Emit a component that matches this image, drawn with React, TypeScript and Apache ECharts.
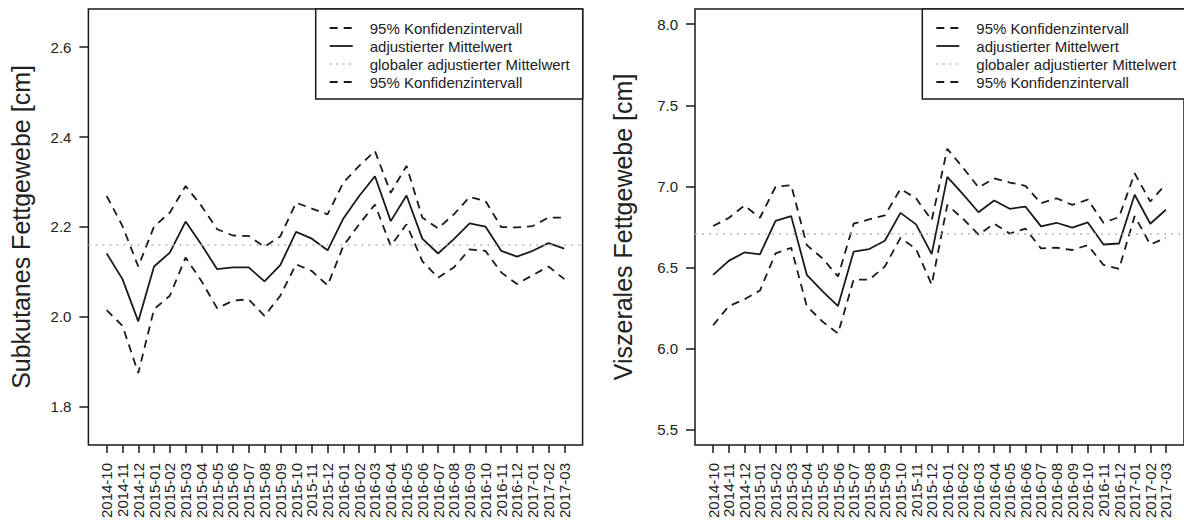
import React, { useEffect, useRef } from "react";
import * as echarts from "echarts";

const months = [
  "2014-10", "2014-11", "2014-12", "2015-01", "2015-02", "2015-03", "2015-04", "2015-05", "2015-06", "2015-07",
  "2015-08", "2015-09", "2015-10", "2015-11", "2015-12", "2016-01", "2016-02", "2016-03", "2016-04", "2016-05",
  "2016-06", "2016-07", "2016-08", "2016-09", "2016-10", "2016-11", "2016-12", "2017-01", "2017-02", "2017-03",
];

const subMean = [2.141, 2.084, 1.99, 2.112, 2.143, 2.212, 2.161, 2.106, 2.11, 2.11, 2.079, 2.115, 2.189, 2.174, 2.148, 2.219, 2.269, 2.313, 2.213, 2.27, 2.174, 2.141, 2.173, 2.208, 2.201, 2.147, 2.134, 2.147, 2.164, 2.152];
const subUpper = [2.269, 2.202, 2.112, 2.201, 2.232, 2.291, 2.247, 2.195, 2.181, 2.18, 2.156, 2.179, 2.254, 2.241, 2.228, 2.299, 2.336, 2.369, 2.276, 2.336, 2.221, 2.197, 2.228, 2.267, 2.258, 2.2, 2.199, 2.202, 2.221, 2.221];
const subLower = [2.015, 1.98, 1.875, 2.017, 2.047, 2.132, 2.08, 2.019, 2.036, 2.039, 2.002, 2.047, 2.117, 2.102, 2.07, 2.158, 2.206, 2.25, 2.158, 2.206, 2.124, 2.087, 2.11, 2.15, 2.147, 2.099, 2.073, 2.093, 2.112, 2.084];
const subGlobal = 2.16;
const subTicks = [1.8, 2.0, 2.2, 2.4, 2.6];

const visMean = [6.455, 6.541, 6.593, 6.581, 6.787, 6.817, 6.455, 6.354, 6.262, 6.598, 6.614, 6.665, 6.837, 6.766, 6.583, 7.059, 6.953, 6.841, 6.913, 6.862, 6.876, 6.754, 6.776, 6.746, 6.778, 6.642, 6.648, 6.949, 6.77, 6.856];
const visUpper = [6.756, 6.805, 6.882, 6.807, 6.998, 7.008, 6.638, 6.557, 6.445, 6.77, 6.797, 6.821, 6.984, 6.927, 6.791, 7.232, 7.116, 6.994, 7.049, 7.024, 7.004, 6.896, 6.927, 6.886, 6.919, 6.776, 6.811, 7.081, 6.907, 7.014];
const visLower = [6.144, 6.262, 6.303, 6.358, 6.587, 6.622, 6.262, 6.167, 6.093, 6.425, 6.425, 6.506, 6.683, 6.614, 6.394, 6.886, 6.801, 6.703, 6.77, 6.709, 6.74, 6.618, 6.622, 6.608, 6.638, 6.516, 6.492, 6.817, 6.642, 6.683];
const visGlobal = 6.713;
const visTicks = [5.5, 6.0, 6.5, 7.0, 7.5, 8.0];

const legendLabels = [
  "95% Konfidenzintervall",
  "adjustierter Mittelwert",
  "globaler adjustierter Mittelwert",
  "95% Konfidenzintervall",
];

const FONT = "'Liberation Sans', Arial, Helvetica, sans-serif";
const INK = "#1a1a1a";
const TXT = "#222";
const GRAY = "#b8b8b8";
const DASH = [8, 6];

export default function App() {
  const ref = useRef<HTMLDivElement>(null);

  useEffect(() => {
    if (!ref.current) return;
    const chart = echarts.init(ref.current, null, { renderer: "svg" });
    const idx = months.map((_, i) => i);
    const n = months.length;
    const xPad = 0.04 * (n - 1);

    const panels = [
      { left: 88.4, min: 1.715, max: 2.685, ticks: subTicks, name: "Subkutanes Fettgewebe [cm]", gap: 55, mean: subMean, up: subUpper, lo: subLower, g: subGlobal },
      { left: 695, min: 5.406, max: 8.094, ticks: visTicks, name: "Viszerales Fettgewebe [cm]", gap: 60, mean: visMean, up: visUpper, lo: visLower, g: visGlobal },
    ];
    const W = 494.2;
    const top = 9;
    const H = 438;

    const grids = panels.map((p) => ({
      left: p.left, top, width: W, height: H, show: true,
      borderColor: INK, borderWidth: 1.5, backgroundColor: "transparent",
    }));

    const xAxes = panels.map((_, k) => ({
      type: "value", gridIndex: k, min: -xPad, max: n - 1 + xPad,
      splitLine: { show: false },
      axisLine: { show: false, onZero: false },
      axisTick: { show: true, inside: false, length: 8, customValues: idx, lineStyle: { color: INK, width: 1.5 } },
      axisLabel: {
        show: true, customValues: idx, rotate: 90, margin: 18,
        fontSize: 15, fontFamily: FONT, color: TXT,
        formatter: (v: number) => months[Math.round(v)] ?? "",
      },
    }));

    const yAxes = panels.map((p, k) => ({
      type: "value", gridIndex: k, min: p.min, max: p.max,
      name: p.name, nameLocation: "middle", nameGap: p.gap,
      nameTextStyle: { fontSize: 25, fontFamily: FONT, color: TXT },
      splitLine: { show: false },
      axisLine: { show: false, onZero: false },
      axisTick: { show: true, inside: false, length: 9, customValues: p.ticks, lineStyle: { color: INK, width: 1.5 } },
      axisLabel: {
        show: true, customValues: p.ticks, margin: 17,
        fontSize: 15, fontFamily: FONT, color: TXT,
        formatter: (v: number) => v.toFixed(1),
      },
    }));

    const series: any[] = [];
    panels.forEach((p, k) => {
      const mk = (arr: number[]) => arr.map((v, i) => [i, v]);
      series.push({
        type: "line", name: "95% Konfidenzintervall", xAxisIndex: k, yAxisIndex: k,
        data: mk(p.up), showSymbol: false, symbol: "none",
        lineStyle: { color: INK, width: 1.8, type: DASH },
      });
      series.push({
        type: "line", name: "adjustierter Mittelwert", xAxisIndex: k, yAxisIndex: k,
        data: mk(p.mean), showSymbol: false, symbol: "none",
        lineStyle: { color: INK, width: 1.8 },
        markLine: {
          silent: true, symbol: ["none", "none"], label: { show: false },
          lineStyle: { color: GRAY, width: 1.5, type: [2, 5] },
          data: [{ yAxis: p.g, name: "globaler adjustierter Mittelwert" }],
        },
      });
      series.push({
        type: "line", name: "95% Konfidenzintervall", xAxisIndex: k, yAxisIndex: k,
        data: mk(p.lo), showSymbol: false, symbol: "none",
        lineStyle: { color: INK, width: 1.8, type: DASH },
      });
    });

    const legendBoxes = [315.7, 922.3];
    const rowsY = [28, 46, 64, 82];
    const graphic: any[] = [];
    legendBoxes.forEach((bx) => {
      graphic.push({
        type: "rect", shape: { x: bx, y: 9, width: 267, height: 90 },
        style: { fill: "#fff", stroke: INK, lineWidth: 1.5 }, z: 10,
      });
      rowsY.forEach((ry, r) => {
        const styles = [
          { stroke: INK, lineWidth: 1.8, lineDash: [8, 6] },
          { stroke: INK, lineWidth: 1.8 },
          { stroke: GRAY, lineWidth: 1.5, lineDash: [2, 4.5] },
          { stroke: INK, lineWidth: 1.8, lineDash: [8, 6] },
        ];
        graphic.push({
          type: "line", shape: { x1: bx + 14, y1: ry, x2: bx + 37, y2: ry },
          style: styles[r], z: 11,
        });
        graphic.push({
          type: "text", x: bx + 54, y: ry, z: 11,
          style: { text: legendLabels[r], fontSize: 15, fontFamily: FONT, fill: TXT, textVerticalAlign: "middle", textAlign: "left" },
        });
      });
    });

    chart.setOption({
      animation: false,
      backgroundColor: "#fff",
      grid: grids,
      xAxis: xAxes,
      yAxis: yAxes,
      series,
      graphic,
    });
    return () => chart.dispose();
  }, []);

  return (
    <div
      ref={ref}
      style={{ position: "fixed", left: 0, top: 0, width: 1184, height: 521, background: "#fff" }}
    />
  );
}
